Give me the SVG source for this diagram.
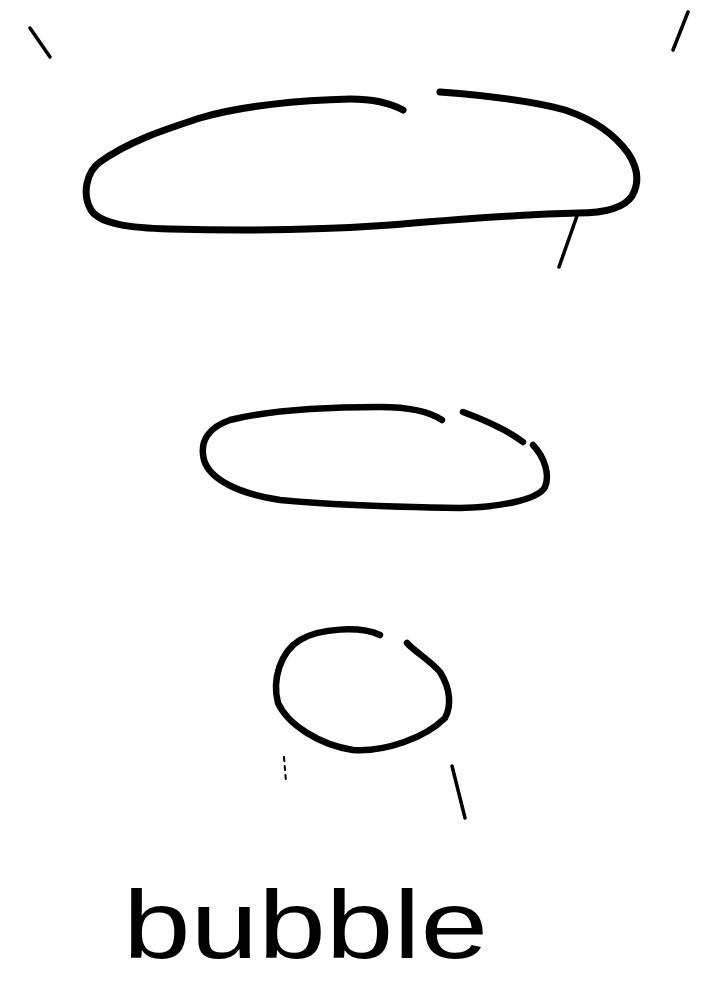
<svg xmlns="http://www.w3.org/2000/svg" width="719" height="984" viewBox="0 0 719 984">
<style>
.s{fill:none;stroke:#000;stroke-linecap:round;stroke-linejoin:round}
.t{stroke-width:7}
.m{stroke-width:6.5}
.k{stroke-width:3.5}
.f{stroke-width:2;stroke-dasharray:4 5}
.lbl{font-family:"Liberation Sans","DejaVu Sans",sans-serif;font-size:96px;fill:#000}
</style>
<rect width="719" height="984" fill="#fff"/>
<g id="ticks-top">
<path class="s k" d="M30,28 L50,57"/>
<path class="s k" d="M688,12 L673,50"/>
</g>
<g id="big-ellipse">
<path class="s t" d="M440,92 C480,95 530,100 565,110 C595,120 615,135 628,153 C638,168 640,182 632,196 C624,208 605,213 578,213 C520,214 450,220 390,225 C320,230 240,231 170,229 C130,228 100,224 91,210 C82,195 86,172 100,162 C130,140 170,128 200,118 C240,106 300,100 350,99 C375,99 392,104 403,110"/>
<path class="s k" d="M578,213 L559,267"/>
</g>
<g id="mid-ellipse">
<path class="s m" d="M463,412 C490,422 510,432 523,442"/>
<path class="s m" d="M533,445 C545,458 550,475 545,487 C538,500 500,507 460,508 C400,507 330,505 280,500 C240,494 210,480 204,460 C199,440 210,427 230,420 C270,410 330,407 380,407 C410,407 430,412 442,420"/>
</g>
<g id="small-circle">
<path class="s m" d="M380,635 C360,626 320,628 300,640 C280,652 272,680 278,703 C288,725 320,745 353,750 C385,752 425,738 445,718 C452,705 450,688 440,672 C430,660 415,652 407,643"/>
<path class="s f" d="M284,757 L286,782"/>
<path class="s k" d="M452,766 L465,818"/>
</g>
<g id="label">
<text class="lbl" x="123" y="958" textLength="365" lengthAdjust="spacingAndGlyphs">bubble</text>
</g>
</svg>
